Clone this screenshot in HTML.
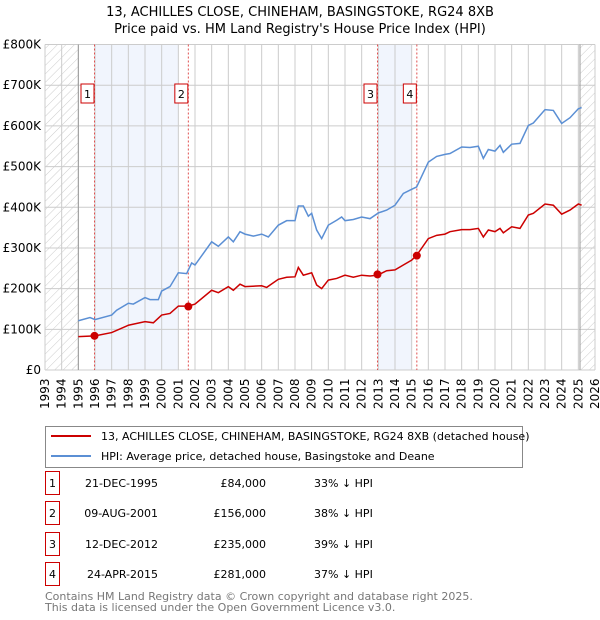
<!DOCTYPE html>
<html><head><meta charset="utf-8"><style>
body{margin:0;background:#fff;font-family:"Liberation Sans","DejaVu Sans",sans-serif;}
#wrap{position:relative;width:600px;height:620px;overflow:hidden;}
svg text{font-family:"DejaVu Sans","Liberation Sans",sans-serif;}
</style></head><body><div id="wrap">
<svg id="c" width="600" height="620"></svg>
</div>
<script>
const hpiYears=[1995,1995.7,1996,1997,1997.3,1998,1998.3,1999,1999.3,1999.8,2000,2000.5,2001,2001.5,2001.8,2002,2003,2003.4,2004,2004.3,2004.7,2005,2005.5,2006,2006.4,2007,2007.5,2008,2008.2,2008.5,2008.8,2009,2009.3,2009.6,2010,2010.5,2010.8,2011,2011.5,2012,2012.5,2013,2013.5,2014,2014.5,2015,2015.3,2016,2016.5,2017,2017.3,2018,2018.5,2019,2019.3,2019.6,2020,2020.3,2020.5,2021,2021.5,2022,2022.3,2023,2023.5,2024,2024.5,2025,2025.2];
const hpiValues=[121,129,124,135,147,164,162,178,173,173,194,205,239,237,263,258,315,304,327,315,340,334,329,334,327,356,367,367,403,403,378,385,344,323,356,368,376,367,370,376,372,386,393,405,434,444,450,511,525,530,532,548,547,550,520,542,538,552,535,555,557,601,607,640,638,606,620,642,645];
const priceYears=[1995,1996,1997,1998,1999,1999.5,2000,2000.5,2001,2001.6,2002,2003,2003.4,2004,2004.3,2004.7,2005,2006,2006.3,2007,2007.5,2008,2008.2,2008.5,2009,2009.3,2009.6,2010,2010.5,2011,2011.5,2012,2012.5,2012.95,2013.5,2014,2014.5,2015,2015.3,2016,2016.5,2017,2017.3,2018,2018.5,2019,2019.3,2019.6,2020,2020.3,2020.5,2021,2021.5,2022,2022.3,2023,2023.5,2024,2024.5,2025,2025.2];
const priceValues=[82,84,92,110,119,116,135,139,157,157,162,196,190,205,196,211,205,207,203,223,228,229,252,233,239,209,200,221,225,233,228,233,231,233,244,246,258,270,282,323,331,334,340,345,345,348,327,344,340,348,337,352,348,381,385,408,405,383,393,408,405];
const saleYears=[1995.97,2001.6,2012.95,2015.31];
const saleValues=[84,156,235,281];
const saleLabels=["1","2","3","4"];
const yTicks=[0,100,200,300,400,500,600,700,800];
const yTickLabels=["£0","£100K","£200K","£300K","£400K","£500K","£600K","£700K","£800K"];
const xTicks=[1993,1994,1995,1996,1997,1998,1999,2000,2001,2002,2003,2004,2005,2006,2007,2008,2009,2010,2011,2012,2013,2014,2015,2016,2017,2018,2019,2020,2021,2022,2023,2024,2025,2026];
const shadeSpans=[[1996,2001],[2013,2015]];
const tableDates=["21-DEC-1995","09-AUG-2001","12-DEC-2012","24-APR-2015"];
const tablePrices=["£84,000","£156,000","£235,000","£281,000"];
const tableHpi=["33% ↓ HPI","38% ↓ HPI","39% ↓ HPI","37% ↓ HPI"];

const L=45,R=595,T=44.5,B=370;
const x=v=>L+(v-1993)/(2026-1993)*(R-L);
const y=v=>B-v/800*(B-T);
const NS="http://www.w3.org/2000/svg";
const svg=document.getElementById('c');
function mk(tag,attrs,parent){const e=document.createElementNS(NS,tag);for(const k in attrs)e.setAttribute(k,attrs[k]);(parent||svg).appendChild(e);return e;}
const defs=mk('defs',{});
const pat=mk('pattern',{id:'hatch',width:6,height:6,patternUnits:'userSpaceOnUse',patternTransform:'rotate(45)'},defs);
mk('line',{x1:0,y1:0,x2:0,y2:6,stroke:'#ccc','stroke-width':1},pat);

let t=mk('text',{x:300,y:16,'text-anchor':'middle','font-size':13});t.textContent="13, ACHILLES CLOSE, CHINEHAM, BASINGSTOKE, RG24 8XB";

t=mk('text',{x:300,y:33,'text-anchor':'middle','font-size':13});t.textContent="Price paid vs. HM Land Registry's House Price Index (HPI)";


shadeSpans.forEach(s=>{const r=mk('rect',{x:x(s[0]),y:T,width:x(s[1])-x(s[0]),height:B-T,fill:'#eef3fd',opacity:0.8});
});
let h=mk('rect',{x:L,y:T,width:x(1995)-L,height:B-T,fill:'url(#hatch)'});

h=mk('rect',{x:x(2025.1),y:T,width:R-x(2025.1),height:B-T,fill:'url(#hatch)'});


xTicks.forEach(v=>{const g=mk('line',{x1:x(v),x2:x(v),y1:T,y2:B,stroke:'#ccc','stroke-width':1});

const tx=mk('text',{x:0,y:0,'font-size':12,transform:`translate(${x(v)+4},${B+39}) rotate(-90)`});tx.textContent=v;
});
yTicks.forEach((v,i)=>{const g=mk('line',{x1:L,x2:R,y1:y(v),y2:y(v),stroke:'#ccc','stroke-width':1});

const tx=mk('text',{x:L-4,y:y(v)+4,'text-anchor':'end','font-size':12});tx.textContent=yTickLabels[i];
});
mk('line',{x1:x(1995),x2:x(1995),y1:T,y2:B,stroke:'#999','stroke-width':1});
mk('line',{x1:x(2025.1),x2:x(2025.1),y1:T,y2:B,stroke:'#999','stroke-width':1});

saleYears.forEach((v,i)=>{const l=mk('line',{x1:x(v),x2:x(v),y1:T,y2:B,stroke:'#e05050','stroke-width':1,'stroke-dasharray':'2,2'});

const bx=mk('rect',{x:x(v)-13.5,y:84,width:13,height:19,fill:'#fff',stroke:'#c00','stroke-width':1});

const tx=mk('text',{x:x(v)-7,y:98,'text-anchor':'middle','font-size':11});tx.textContent=saleLabels[i];
});

const hp=mk('polyline',{points:hpiYears.map((v,i)=>x(v)+','+y(hpiValues[i])).join(' '),fill:'none',stroke:'#5b8fd4','stroke-width':1.5});

const pp=mk('polyline',{points:priceYears.map((v,i)=>x(v)+','+y(priceValues[i])).join(' '),fill:'none',stroke:'#cc0000','stroke-width':1.5});

saleYears.forEach((v,i)=>{const c=mk('circle',{cx:x(v),cy:y(saleValues[i]),r:4,fill:'#cc0000'});
});

const lg=mk('rect',{x:45.5,y:426.5,width:477,height:41,fill:'#fff',stroke:'#888','stroke-width':1});

mk('line',{x1:51,x2:91,y1:436,y2:436,stroke:'#cc0000','stroke-width':2});
mk('line',{x1:51,x2:91,y1:456,y2:456,stroke:'#5b8fd4','stroke-width':2});
t=mk('text',{x:101,y:440,'font-size':11});t.textContent="13, ACHILLES CLOSE, CHINEHAM, BASINGSTOKE, RG24 8XB (detached house)";

t=mk('text',{x:101,y:460,'font-size':11});t.textContent="HPI: Average price, detached house, Basingstoke and Deane";


const rowY=[483,513,544,574];
rowY.forEach((ry,i)=>{const b=mk('rect',{x:45.5,y:ry-11.5,width:14,height:23,fill:'#fff',stroke:'#c00','stroke-width':1});

let a=mk('text',{x:52.5,y:ry+4,'text-anchor':'middle','font-size':11});a.textContent=saleLabels[i];
a=mk('text',{x:158,y:ry+4,'text-anchor':'end','font-size':11});a.textContent=tableDates[i];

a=mk('text',{x:266,y:ry+4,'text-anchor':'end','font-size':11});a.textContent=tablePrices[i];

a=mk('text',{x:314,y:ry+4,'font-size':11});a.textContent=tableHpi[i];
});
t=mk('text',{x:45,y:600,'font-size':11,fill:'#777'});t.textContent="Contains HM Land Registry data © Crown copyright and database right 2025.";

t=mk('text',{x:45,y:611,'font-size':11,fill:'#777'});t.textContent="This data is licensed under the Open Government Licence v3.0.";

</script></body></html>
